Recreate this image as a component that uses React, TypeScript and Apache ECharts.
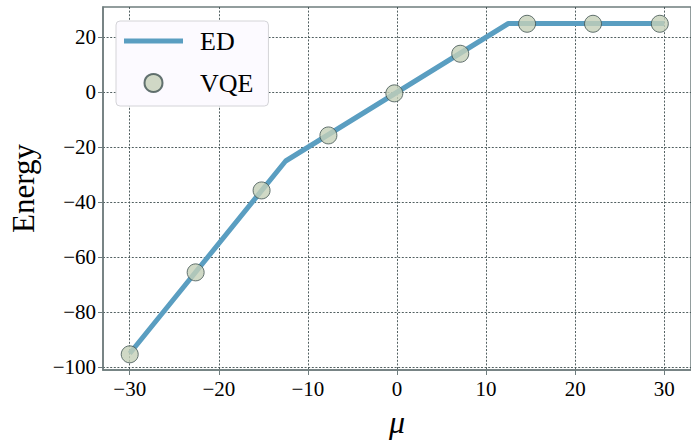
import React, { useEffect, useRef } from "react";
import * as echarts from "echarts";

const edMu = [-30, -12.5, 12.5, 30];
const edEnergy = [-95, -25, 25, 25];
const vqeMu = [-30, -22.6, -15.2, -7.7, -0.3, 7.1, 14.6, 22.0, 29.5];
const vqeEnergy = [-95.3, -65.5, -35.7, -15.7, -0.4, 14.0, 24.9, 24.9, 24.9];
const xTicks = [-30, -20, -10, 0, 10, 20, 30];
const yTicks = [-100, -80, -60, -40, -20, 0, 20];

const SERIF = "'Liberation Serif', 'Times New Roman', serif";
const fmt = (v: number) => String(v).replace("-", "\u2212");

export default function App() {
  const ref = useRef<HTMLDivElement>(null);
  useEffect(() => {
    if (!ref.current) return;
    const chart = echarts.init(ref.current, undefined, { renderer: "svg" });
    const spine = "#6f7d7e";
    const lineColor = "#5a9ec1";
    const gridLine = { show: true, lineStyle: { color: "#3f4f50", width: 0.9, type: [2, 1.6] as any } };
    chart.setOption({
      animation: false,
      backgroundColor: "#ffffff",
      grid: {
        left: 101.5,
        top: 7,
        width: 591,
        height: 368,
        show: true,
        borderColor: spine,
        borderWidth: 1.5,
        backgroundColor: "transparent",
      },
      xAxis: {
        type: "value",
        min: -33,
        max: 33,
        name: "\u03bc",
        nameLocation: "middle",
        nameGap: 36,
        nameTextStyle: { fontFamily: SERIF, fontSize: 32, fontStyle: "italic", color: "#000", verticalAlign: "top" },
        axisLine: { show: true, onZero: false, lineStyle: { color: spine, width: 1.5 } },
        axisTick: { show: true, inside: false, length: 5, customValues: xTicks, lineStyle: { color: spine, width: 1 } },
        axisLabel: { customValues: xTicks, formatter: fmt, fontFamily: SERIF, fontSize: 21, color: "#000", margin: 8 },
        splitLine: gridLine,
      },
      yAxis: {
        type: "value",
        min: -101,
        max: 31,
        name: "Energy",
        nameLocation: "middle",
        nameGap: 64,
        nameRotate: 90,
        nameTextStyle: { fontFamily: SERIF, fontSize: 31, color: "#000" },
        axisLine: { show: true, onZero: false, lineStyle: { color: spine, width: 1.5 } },
        axisTick: { show: true, inside: false, length: 5, customValues: yTicks, lineStyle: { color: spine, width: 1 } },
        axisLabel: { customValues: yTicks, formatter: fmt, fontFamily: SERIF, fontSize: 21, color: "#000", margin: 7 },
        splitLine: gridLine,
      },
      legend: {
        orient: "vertical",
        left: 116,
        top: 21,
        padding: [7, 15, 10, 8],
        itemWidth: 59,
        itemHeight: 18,
        itemGap: 16,
        backgroundColor: "#fcfaff",
        borderColor: "#d4d4d8",
        borderWidth: 1,
        borderRadius: 4,
        textStyle: { fontFamily: SERIF, fontSize: 26, color: "#000", lineHeight: 26, padding: [0, 0, 0, 12] },
        data: [
          { name: "ED", icon: "path://M0,0 L59,0 L59,5 L0,5 Z", itemStyle: { color: lineColor } },
          { name: "VQE", icon: "circle" },
        ],
      },
      series: [
        {
          name: "ED",
          type: "line",
          data: edMu.map((m, i) => [m, edEnergy[i]]),
          showSymbol: false,
          symbol: "none",
          lineStyle: { color: lineColor, width: 5 },
          itemStyle: { color: lineColor },
          z: 2,
        },
        {
          name: "VQE",
          type: "scatter",
          data: vqeMu.map((m, i) => [m, vqeEnergy[i]]),
          symbol: "circle",
          symbolSize: 17,
          itemStyle: { color: "#c4cfb8", borderColor: "#3f5150", borderWidth: 1 },
          z: 3,
        },
      ],
    });
    return () => chart.dispose();
  }, []);
  return (
    <div
      ref={ref}
      style={{ position: "fixed", left: 0, top: 0, width: 691, height: 443, background: "#fff" }}
    />
  );
}
